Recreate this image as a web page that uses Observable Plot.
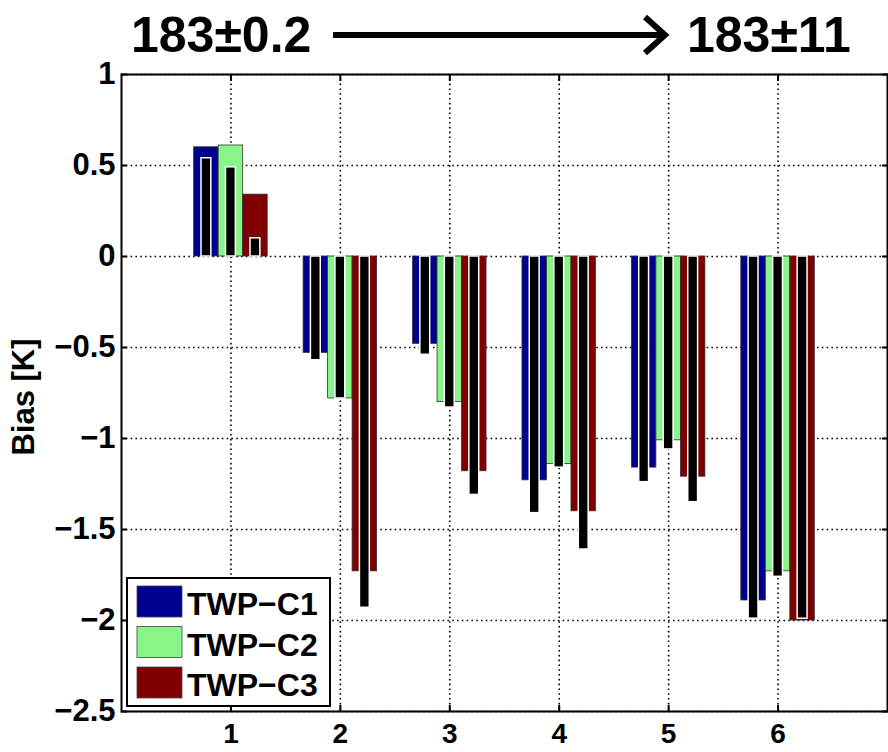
<!DOCTYPE html>
<html><head><meta charset="utf-8">
<script src="https://cdn.jsdelivr.net/npm/d3@7"></script>
<script src="https://cdn.jsdelivr.net/npm/@observablehq/plot@0.6"></script>
<style>body{margin:0;background:#fff} #chart{width:888px;height:752px}</style>
</head><body><div id="chart"></div>
<script>
const channels = [1, 2, 3, 4, 5, 6];
const seriesNames = ["TWP−C1", "TWP−C2", "TWP−C3"];
const seriesColors = ["#00008f", "#88f588", "#800000"];
// wide coloured bars
const c1Bias = [0.60, -0.53, -0.48, -1.23, -1.16, -1.89];
const c2Bias = [0.61, -0.78, -0.80, -1.14, -1.01, -1.73];
const c3Bias = [0.34, -1.73, -1.18, -1.40, -1.21, -2.00];
// narrow black bars
const c1Inner = [0.54, -0.57, -0.54, -1.41, -1.24, -1.99];
const c2Inner = [0.49, -0.78, -0.83, -1.16, -1.06, -1.76];
const c3Inner = [0.10, -1.93, -1.31, -1.61, -1.35, -1.99];
const yTicks = [1, 0.5, 0, -0.5, -1, -1.5, -2, -2.5];
const xTicks = [1, 2, 3, 4, 5, 6];
const titleLeft = "183±0.2";
const titleRight = "183±11";
const yLabel = "Bias [K]";

const outer = [c1Bias, c2Bias, c3Bias];
const inner = [c1Inner, c2Inner, c3Inner];
const rows = [];
seriesNames.forEach((s, i) => channels.forEach((ch, j) =>
  rows.push({ch, i, series: s, value: outer[i][j], inner: inner[i][j]})));

const bw = 0.224, kw = 0.09;
const FONT = "'Liberation Sans', Arial, Helvetica, sans-serif";
const fmt = d => d < 0 ? "−" + Math.abs(d) : String(d);
const grid = {stroke: "#000", strokeOpacity: 1, strokeDasharray: "1.6,3.2", strokeWidth: 1.6};

const svg = Plot.plot({
  width: 888, height: 752,
  marginLeft: 121, marginRight: 1, marginTop: 74, marginBottom: 41,
  style: {fontFamily: FONT, fontSize: "30px", fontWeight: "bold", background: "#fff", color: "#000"},
  x: {domain: [0, 7], axis: null},
  y: {domain: [-2.5, 1], axis: null},
  color: {domain: seriesNames, range: seriesColors},
  marks: [
    Plot.gridY(yTicks, grid),
    Plot.gridX(xTicks, grid),
    Plot.rect(rows, {x1: d => d.ch + (d.i - 1.5) * bw, x2: d => d.ch + (d.i - 0.5) * bw,
      y1: 0, y2: "value", fill: "series", stroke: "#333", strokeWidth: 0.8}),
    Plot.rect(rows, {x1: d => d.ch + (d.i - 1) * bw - kw / 2, x2: d => d.ch + (d.i - 1) * bw + kw / 2,
      y1: 0, y2: "inner", fill: "#000", stroke: "#fff", strokeWidth: 1.5}),
    Plot.frame({stroke: "#000", strokeWidth: 2}),
    Plot.axisY(yTicks, {anchor: "left", tickSize: -6, tickPadding: 12, tickFormat: fmt, label: null, strokeWidth: 2, fontSize: 31}),
    Plot.axisY(yTicks, {anchor: "right", tickSize: -6, tickFormat: () => "", label: null, strokeWidth: 2}),
    Plot.axisX(xTicks, {anchor: "bottom", tickSize: -6, tickPadding: 18, tickFormat: d => String(d), label: null, strokeWidth: 2, fontSize: 28}),
    Plot.axisX(xTicks, {anchor: "top", tickSize: -6, tickFormat: () => "", label: null, strokeWidth: 2})
  ]
});
document.getElementById("chart").appendChild(svg);

const g = d3.select(svg).append("g").attr("font-family", FONT).attr("font-weight", "bold").attr("text-anchor", "start");
// title
g.append("text").attr("x", 131).attr("y", 52).attr("font-size", 50).attr("text-anchor", "start").attr("fill", "#000").text(titleLeft);
g.append("text").attr("x", 687).attr("y", 52).attr("font-size", 50).attr("text-anchor", "start").attr("fill", "#000").text(titleRight);
g.append("path").attr("d", "M333,35H662").attr("stroke", "#000").attr("stroke-width", 6).attr("fill", "none");
g.append("path").attr("d", "M645,17L665,35L645,53").attr("stroke", "#000").attr("stroke-width", 6).attr("fill", "none").attr("stroke-linejoin", "miter");
// y label
g.append("text").attr("transform", "translate(26,397) rotate(-90)").attr("text-anchor", "middle")
  .attr("dominant-baseline", "middle").attr("font-size", 31).attr("fill", "#000").text(yLabel);
// legend
const lg = g.append("g");
lg.append("rect").attr("x", 127).attr("y", 578).attr("width", 203).attr("height", 128)
  .attr("fill", "#fff").attr("stroke", "#000").attr("stroke-width", 2);
seriesNames.forEach((s, i) => {
  const y0 = 586 + i * 40.5;
  lg.append("rect").attr("x", 137).attr("y", y0).attr("width", 45).attr("height", 31)
    .attr("fill", seriesColors[i]).attr("stroke", "#444").attr("stroke-width", 0.8);
  lg.append("text").attr("x", 187).attr("y", y0 + 29).attr("font-size", 32).attr("text-anchor", "start").attr("fill", "#000").text(s);
});
</script>
</body></html>
